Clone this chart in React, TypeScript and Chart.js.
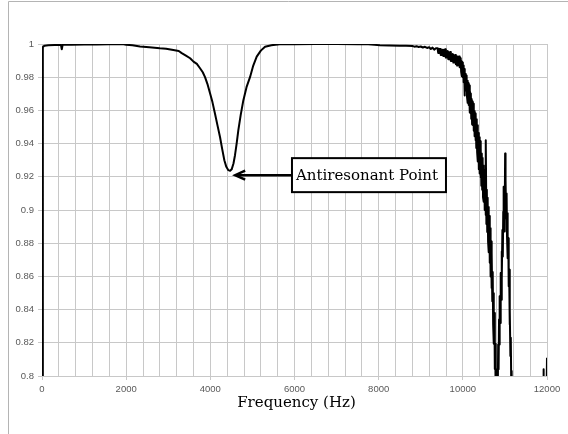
import React, { useEffect, useRef } from "react";
import { Chart, registerables } from "chart.js";

Chart.register(...registerables);

// Measured frequency response: ratio vs frequency (Hz)
const frequencyHz: number[] = [
  // low band and antiresonance
  0, 20, 60, 150, 300, 450, 470, 490, 700, 1000, 1300, 1600, 1900, 1940, 2000,
  2150, 2330, 2550, 2800, 2950, 3120, 3250, 3320, 3420, 3520, 3600, 3680, 3755,
  3820, 3874, 3930, 3993, 4050, 4111, 4170, 4230, 4280, 4333, 4380, 4428, 4470,
  4507, 4550, 4586, 4625, 4665, 4720, 4784, 4860, 4943, 5020, 5102, 5200, 5300,
  5450, 5650, 6000, 6500, 7000, 7500, 7750, 7900, 8030, 8250, 8500, 8650, 8800,
  8850, 8900, 8950, 9000, 9050, 9100, 9150, 9200, 9240, 9280, 9320, 9360,
  // onset of high-frequency noise
  9400, 9415, 9430, 9445, 9460, 9475, 9490, 9505, 9520, 9535, 9550, 9565, 9580,
  9595, 9610, 9625, 9640, 9655, 9670, 9685, 9700, 9715, 9730, 9745, 9760, 9775,
  9790, 9805, 9820, 9835, 9850, 9865, 9880, 9895, 9910, 9925, 9940,
  // roll-off
  9950, 9960, 9970, 9980, 9990, 10000, 10010, 10020, 10030, 10040,
  10050, 10060, 10070, 10080, 10090, 10100, 10110, 10120, 10130, 10140,
  10150, 10160, 10170, 10180, 10190, 10200, 10210, 10220, 10230, 10240,
  10250, 10260, 10270, 10280, 10290, 10300, 10310, 10320, 10330, 10340,
  10350, 10360, 10370, 10380, 10390, 10400, 10410, 10420, 10430, 10440,
  10450, 10460, 10470, 10480, 10490, 10500, 10510, 10520, 10530, 10540,
  10550, 10560, 10570, 10580, 10590, 10600, 10610, 10620, 10630, 10640,
  10650, 10660, 10670, 10680, 10690, 10700, 10710, 10720, 10730, 10740,
  10750, 10760, 10770, 10780, 10790, 10800,
  // second lobe and tail
  10810, 10820, 10830, 10840, 10850, 10860, 10870, 10880, 10890, 10900,
  10910, 10920, 10930, 10940, 10950, 10960, 10970, 10980, 10990, 11000,
  11005, 11010, 11020, 11030, 11040, 11050, 11060, 11070, 11080, 11090,
  11100, 11110, 11120, 11130, 11140, 11150, 11160, 11170, 11200, 11500,
  11880, 11905, 11915, 11925, 11985, 11995, 12000,
];

const ratio: number[] = [
  // low band and antiresonance
  0.78, 0.9982, 0.999, 0.9993, 0.9994, 0.9995, 0.9968, 0.9995, 0.9996, 0.9997,
  0.9997, 0.9998, 0.9998, 0.9999, 0.9996,
  0.9992, 0.9985, 0.998, 0.9974, 0.9972, 0.9964, 0.9958, 0.9945, 0.993, 0.9914,
  0.9894, 0.988, 0.9854,
  0.983, 0.98, 0.976, 0.9703, 0.965, 0.958, 0.951, 0.944, 0.937, 0.93, 0.926,
  0.924, 0.9236,
  0.9245, 0.928, 0.933, 0.94, 0.948, 0.957, 0.966, 0.974, 0.98, 0.987, 0.9924,
  0.996, 0.9984,
  0.9993, 0.9998, 0.9999, 1.0, 1.0, 0.9999, 0.9998, 0.9995, 0.9992, 0.9991,
  0.9989, 0.999, 0.9988,
  0.9984, 0.9987, 0.9982, 0.9985, 0.9979, 0.9983, 0.9976, 0.998, 0.997, 0.9978,
  0.9966, 0.9974,
  // onset of high-frequency noise
  0.9974, 0.9946, 0.9972, 0.9946, 0.997, 0.9934, 0.9962, 0.9934, 0.9966, 0.9928,
  0.9966, 0.9928, 0.9968, 0.9918, 0.9956, 0.9918, 0.9958, 0.9908, 0.995, 0.9908,
  0.9952, 0.9898, 0.9938, 0.9898, 0.994, 0.9888, 0.9932, 0.9888, 0.9934, 0.9878,
  0.9926, 0.987, 0.9924, 0.9872, 0.9924, 0.986, 0.9914,
  // roll-off
  0.991, 0.9832, 0.9894, 0.9806, 0.9888, 0.98, 0.987, 0.977, 0.985, 0.969,
  0.983, 0.973, 0.982, 0.972, 0.981, 0.968, 0.9778, 0.9646, 0.9764, 0.9632,
  0.975, 0.9588, 0.9716, 0.9584, 0.9702, 0.955, 0.9668, 0.9516, 0.9654, 0.9512,
  0.964, 0.9478, 0.9596, 0.9444, 0.9582, 0.942, 0.9572, 0.9374, 0.9546, 0.9348,
  0.951, 0.9292, 0.9464, 0.9246, 0.9438, 0.922, 0.9414, 0.9198, 0.9372, 0.9146,
  0.934, 0.9122, 0.9314, 0.9076, 0.9268, 0.905, 0.924, 0.9, 0.919, 0.897,
  0.942, 0.8916, 0.9122, 0.8868, 0.9074, 0.881, 0.9018, 0.8746, 0.8964, 0.8682,
  0.889, 0.86, 0.881, 0.853, 0.874, 0.845, 0.8626, 0.8312, 0.8498, 0.8194,
  0.838, 0.8042, 0.8195, 0.7868, 0.8, 0.775,
  // second lobe and tail
  0.775, 0.804, 0.79, 0.819, 0.804, 0.834, 0.819, 0.848, 0.832, 0.862,
  0.846, 0.875, 0.858, 0.888, 0.872, 0.899, 0.914, 0.887, 0.912, 0.897,
  0.934, 0.898, 0.918, 0.895, 0.91, 0.884, 0.898, 0.871, 0.883, 0.854,
  0.864, 0.831, 0.84, 0.812, 0.823, 0.795, 0.803, 0.78, 0.75, 0.75,
  0.75, 0.79, 0.804, 0.79, 0.79, 0.8, 0.811,
];

const xTickStep = 400;
const xLabelStep = 2000;
const yTickStep = 0.02;

const axisTitle = "Frequency (Hz)";
const calloutText = "Antiresonant Point";
const calloutTip = { x: 4590, y: 0.921 };
const calloutBoxLeftHz = 5940;

const GRID = "#c8c8c8";
const TICK_TEXT = "#595959";

const overlayPlugin = {
  id: "overlay",
  afterDatasetsDraw(chart: any) {
    const { ctx, scales, chartArea, width, height } = chart;
    const xs = scales.x;
    const ys = scales.y;
    ctx.save();

    // outer frame
    ctx.strokeStyle = "#b4b4b4";
    ctx.lineWidth = 1;
    ctx.beginPath();
    ctx.moveTo(8.5, height);
    ctx.lineTo(8.5, 1.5);
    ctx.lineTo(width, 1.5);
    ctx.stroke();

    // callout arrow + box
    const tipX = xs.getPixelForValue(calloutTip.x);
    const tipY = ys.getPixelForValue(calloutTip.y);
    const boxL = xs.getPixelForValue(calloutBoxLeftHz);
    const boxW = 154;
    const boxH = 34;
    const boxT = tipY - boxH / 2;

    ctx.strokeStyle = "#000";
    ctx.fillStyle = "#000";
    ctx.lineWidth = 2.5;
    ctx.beginPath();
    ctx.moveTo(boxL, tipY);
    ctx.lineTo(tipX + 2, tipY);
    ctx.stroke();
    ctx.beginPath();
    ctx.moveTo(tipX + 10, tipY - 4.5);
    ctx.lineTo(tipX, tipY);
    ctx.lineTo(tipX + 10, tipY + 4.5);
    ctx.stroke();

    ctx.fillStyle = "#fff";
    ctx.fillRect(boxL, boxT, boxW, boxH);
    ctx.lineWidth = 2;
    ctx.strokeRect(boxL, boxT, boxW, boxH);

    ctx.fillStyle = "#000";
    ctx.font = '15px "DejaVu Serif"';
    ctx.textAlign = "center";
    ctx.textBaseline = "middle";
    ctx.fillText(calloutText, boxL + boxW / 2 - 2, tipY + 0.5);

    // axis title
    ctx.textBaseline = "alphabetic";
    ctx.fillText(axisTitle, (chartArea.left + chartArea.right) / 2 + 2, 407);

    ctx.restore();
  },
};

export default function App() {
  const canvasRef = useRef<HTMLCanvasElement | null>(null);

  useEffect(() => {
    const canvas = canvasRef.current;
    if (!canvas) return;
    const points = frequencyHz.map((f, i) => ({ x: f, y: ratio[i] }));
    const chart = new Chart(canvas, {
      type: "line",
      data: {
        datasets: [
          {
            data: points,
            borderColor: "#000",
            borderWidth: 2,
            borderJoinStyle: "round",
            pointRadius: 0,
            tension: 0,
            fill: false,
          },
        ],
      },
      options: {
        responsive: false,
        animation: false,
        devicePixelRatio: 1,
        layout: { padding: { top: 44, right: 21, left: 0, bottom: 0 } },
        plugins: {
          legend: { display: false },
          tooltip: { enabled: false },
          title: { display: false },
        },
        scales: {
          x: {
            type: "linear",
            min: 0,
            max: 12000,
            afterFit: (s: any) => {
              s.height = 58;
            },
            afterBuildTicks: (s: any) => {
              const t = [];
              for (let v = 0; v <= 12000; v += xTickStep) t.push({ value: v });
              s.ticks = t;
            },
            ticks: {
              autoSkip: false,
              maxRotation: 0,
              padding: 4,
              color: TICK_TEXT,
              font: { family: '"Liberation Sans"', size: 9.5 },
              callback: (v: any) => (Number(v) % xLabelStep === 0 ? String(v) : ""),
            },
            grid: {
              color: GRID,
              tickLength: 4,
              tickColor: (c: any) =>
                c.tick && c.tick.value % xLabelStep === 0 ? GRID : "rgba(0,0,0,0)",
            },
            border: { color: GRID },
          },
          y: {
            min: 0.8,
            max: 1,
            afterFit: (s: any) => {
              s.width = 42;
            },
            ticks: {
              stepSize: yTickStep,
              padding: 4,
              color: TICK_TEXT,
              font: { family: '"Liberation Sans"', size: 9.5 },
              callback: (v: any) => String(parseFloat(Number(v).toFixed(2))),
            },
            grid: { color: GRID, tickLength: 4, tickColor: GRID },
            border: { color: GRID },
          },
        },
      },
      plugins: [overlayPlugin],
    } as any);
    return () => chart.destroy();
  }, []);

  return (
    <div style={{ position: "absolute", left: 0, top: 0, width: 568, height: 434, background: "#fff" }}>
      <canvas ref={canvasRef} width={568} height={434} style={{ display: "block", width: 568, height: 434 }} />
    </div>
  );
}
